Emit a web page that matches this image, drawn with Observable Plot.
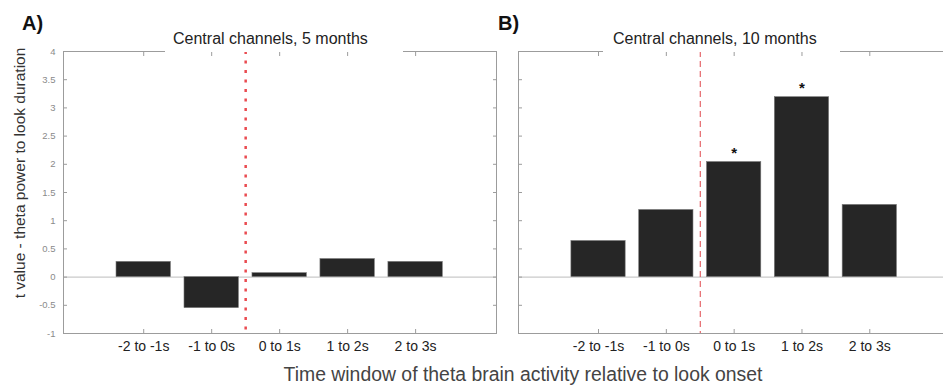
<!DOCTYPE html>
<html><head><meta charset="utf-8">
<script src="https://cdn.jsdelivr.net/npm/d3@7"></script>
<script src="https://cdn.jsdelivr.net/npm/@observablehq/plot@0.6"></script>
<style>
html,body{margin:0;padding:0;background:#fff;overflow:hidden;}
#wrap{position:relative;width:943px;height:386px;overflow:hidden;font-family:"Liberation Sans",Arial,sans-serif;background:#fff;}
.panel{position:absolute;top:0;height:360px;overflow:hidden;}
.panel svg{max-width:none !important;display:block;}
.title{position:absolute;background:#fff;font-size:16px;line-height:18px;color:#222;white-space:nowrap;z-index:2;box-sizing:border-box;}
.letter{position:absolute;font-weight:bold;font-size:20px;line-height:20px;color:#111;z-index:2;}
.ylab{position:absolute;left:20px;top:173px;transform:translate(-50%,-50%) rotate(-90deg);font-size:15.5px;color:#333;white-space:nowrap;}
.xlab{position:absolute;left:523px;top:365px;transform:translateX(-50%);font-size:19.4px;line-height:19px;color:#444;white-space:nowrap;}
</style></head>
<body>
<div id="wrap">
  <div class="letter" style="left:22px;top:13px">A)</div>
  <div class="letter" style="left:498px;top:13px">B)</div>
  <div class="title" id="titleA" style="left:165px;top:30px;width:238px;height:22px;padding-left:8px"></div>
  <div class="title" id="titleB" style="left:603px;top:30px;width:237px;height:22px;padding-left:10px"></div>
  <div class="ylab" id="ylab"></div>
  <div class="xlab" id="xlab"></div>
</div>
<script>
const windows = ["-2 to -1s", "-1 to 0s", "0 to 1s", "1 to 2s", "2 to 3s"];
const windowStart = [-2, -1, 0, 1, 2];
const tValues5mo = [0.27, -0.55, 0.07, 0.32, 0.27];
const tValues10mo = [0.64, 1.19, 2.04, 3.19, 1.28];
const significant5mo = [false, false, false, false, false];
const significant10mo = [false, false, true, true, false];
const yTicks = [-1, -0.5, 0, 0.5, 1, 1.5, 2, 2.5, 3, 3.5, 4];
const lookOnset = 0;
const panelTitles = ["Central channels, 5 months", "Central channels, 10 months"];
const yLabel = "t value - theta power to look duration";
const xLabel = "Time window of theta brain activity relative to look onset";

document.getElementById("titleA").textContent = panelTitles[0];
document.getElementById("titleB").textContent = panelTitles[1];
document.getElementById("ylab").textContent = yLabel;
document.getElementById("xlab").textContent = xLabel;

const centers = windowStart.map(s => s + 0.5);
const frameColor = "#9c9c9c";

function panel({values, sig, showYLabels, left, clipWidth, marginLeft, marginRight, onset, sides, rightTicks}) {
  const data = windows.map((w, i) => ({w, start: windowStart[i], center: centers[i], t: values[i], sig: sig[i]}));
  const marks = [
    Plot.ruleY([0], {stroke: "#bdbdbd", strokeWidth: 1}),
    Plot.ruleX([lookOnset], onset),
    Plot.rect(data, {x1: d => d.start + 0.1, x2: d => d.start + 0.9, y1: 0, y2: "t", fill: "#262626", stroke: "#777", strokeWidth: 0.6}),
    Plot.text(data.filter(d => d.sig), {x: "center", y: "t", text: () => "*", dy: -9, fontSize: 15, fontWeight: "bold", fill: "#111"}),
    ...sides.map(anchor => Plot.frame({anchor, stroke: frameColor})),
    Plot.axisY(yTicks, {anchor: "left", tickSize: 4, dx: 4, fill: "none", stroke: frameColor, label: null}),
    rightTicks ? Plot.axisY(yTicks, {anchor: "right", tickSize: 4, dx: -4, fill: "none", stroke: frameColor, label: null}) : null,
    Plot.axisX(centers, {anchor: "top", tickSize: 4, dy: 4, fill: "none", stroke: frameColor, label: null}),
    Plot.axisX(centers, {anchor: "bottom", tickSize: 4, dy: -4, fill: "none", stroke: frameColor, label: null}),
    Plot.axisX(centers, {anchor: "bottom", tickSize: 0, tickPadding: 8, fontSize: 14, fill: "#222", label: null,
      tickFormat: d => windows[centers.indexOf(d)]})
  ];
  if (showYLabels) marks.push(Plot.axisY(yTicks, {anchor: "left", tickSize: 0, tickPadding: 8, fontSize: 9.5, fill: "#8a8a8a", label: null,
    tickFormat: d => String(d)}));
  const svg = Plot.plot({
    width: 510, height: 360,
    marginLeft, marginRight, marginTop: 51, marginBottom: 27,
    x: {domain: [-2.68, 3.69]},
    y: {domain: [-1, 4]},
    style: {fontFamily: "'Liberation Sans', Arial, sans-serif", background: "transparent", overflow: "visible", maxWidth: "none"},
    marks
  });
  const div = document.createElement("div");
  div.className = "panel";
  div.style.left = left + "px";
  div.style.width = clipWidth + "px";
  div.appendChild(svg);
  document.getElementById("wrap").appendChild(div);
}

panel({values: tValues5mo, sig: significant5mo, showYLabels: true, left: 0, clipWidth: 510, marginLeft: 63, marginRight: 14,
  onset: {stroke: "#ea4b50", strokeWidth: 2.5, strokeDasharray: "3,6.5"}, sides: ["top", "right", "bottom", "left"], rightTicks: true});
panel({values: tValues10mo, sig: significant10mo, showYLabels: false, left: 460, clipWidth: 483, marginLeft: 58, marginRight: 20,
  onset: {stroke: "#e0474c", strokeWidth: 1, strokeDasharray: "6,4"}, sides: ["top", "bottom", "left"], rightTicks: false});
</script>
</body></html>
